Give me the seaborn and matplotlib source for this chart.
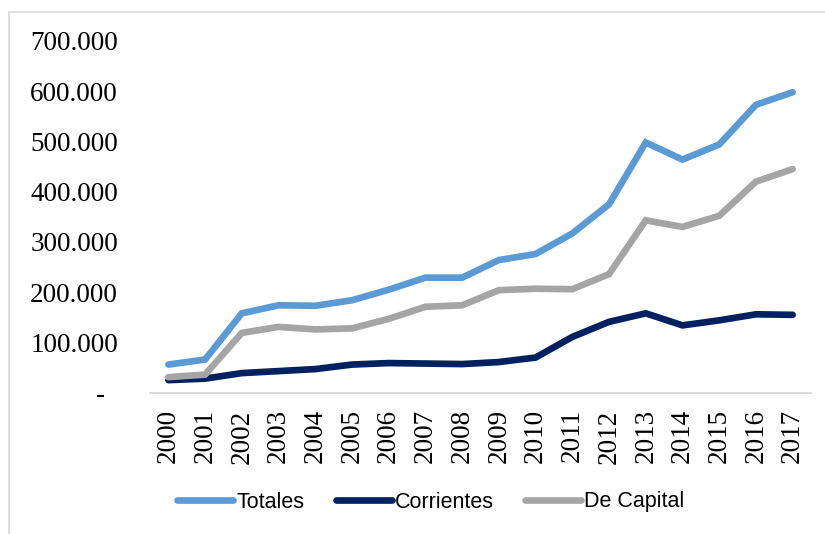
import pandas as pd
import seaborn as sns
import matplotlib.pyplot as plt
from matplotlib.lines import Line2D

years = list(range(2000, 2018))
totales = [56000, 66000, 158000, 174000, 173000, 184000, 205000, 229000, 229000,
           264000, 276000, 317000, 375000, 498000, 464000, 494000, 573000, 598000]
corrientes = [25000, 28000, 39000, 43000, 47000, 56000, 59000, 58000, 57000,
              61000, 70000, 111000, 141000, 158000, 134000, 144000, 156000, 155000]
de_capital = [31000, 36000, 119000, 131000, 126000, 128000, 147000, 171000, 174000,
              204000, 207000, 206000, 236000, 343000, 330000, 352000, 420000, 445000]
series_names = ["Totales", "Corrientes", "De Capital"]
colors = ["#5B9BD5", "#002060", "#A5A5A5"]
y_ticks = [0, 100000, 200000, 300000, 400000, 500000, 600000, 700000]
y_labels = ["-  ", "100.000", "200.000", "300.000", "400.000", "500.000", "600.000", "700.000"]

# long format for seaborn
df = pd.DataFrame({"anio": [str(y) for y in years] * 3,
                   "valor": totales + corrientes + de_capital,
                   "serie": [s for s in series_names for _ in years]})

sns.set_style("white")
plt.rcParams['font.family'] = ['Liberation Serif', 'DejaVu Serif']
plt.rcParams['text.color'] = 'black'
plt.rcParams['xtick.color'] = 'black'
plt.rcParams['ytick.color'] = 'black'

fig = plt.figure(figsize=(8.25, 5.34), dpi=100)
ax = fig.add_axes([150/825, 1 - 392.7/534, (811-150)/825, (392.7-41)/534])

sns.lineplot(data=df, x="anio", y="valor", hue="serie", hue_order=series_names,
             palette=colors, linewidth=4.8, ax=ax, sort=False, legend=False)
for ln in ax.get_lines():
    ln.set_solid_capstyle("round")
    ln.set_solid_joinstyle("miter")

ax.set_xlim(-0.5, len(years) - 0.5)
ax.set_ylim(0, 700000)
ax.set_yticks(y_ticks)
ax.set_yticklabels(y_labels, fontsize=19.5)
ax.set_xticks(range(len(years)))
ax.set_xticklabels([str(y) for y in years], rotation=90, fontsize=19.5)
ax.tick_params(axis="y", length=0, pad=23, labelcolor="black")
ax.tick_params(axis="x", length=0, pad=12, labelcolor="black")
ax.set_xlabel("")
ax.set_ylabel("")
for s in ["top", "right", "left"]:
    ax.spines[s].set_visible(False)
ax.spines["bottom"].set_color("#D9D9D9")
ax.spines["bottom"].set_linewidth(1.3)

handles = [Line2D([0], [0], color=c, lw=4.8, solid_capstyle="round") for c in colors]
leg = fig.legend(handles, series_names, loc="center", bbox_to_anchor=(431/825, 1 - 502/534),
                 ncol=3, frameon=False, prop={"family": "Liberation Sans", "size": 15.5},
                 handlelength=2.6, handletextpad=0.15, columnspacing=1.45)
for t in leg.get_texts():
    t.set_color("black")

# light frame of the chart area
fig.add_artist(Line2D([9/825, 9/825], [0, 1 - 12/534], color="#D9D9D9", lw=1.2,
                      transform=fig.transFigure))
fig.add_artist(Line2D([9/825, 1], [1 - 12/534, 1 - 12/534], color="#D9D9D9", lw=1.2,
                      transform=fig.transFigure))

fig.savefig("out.png", dpi=100)
